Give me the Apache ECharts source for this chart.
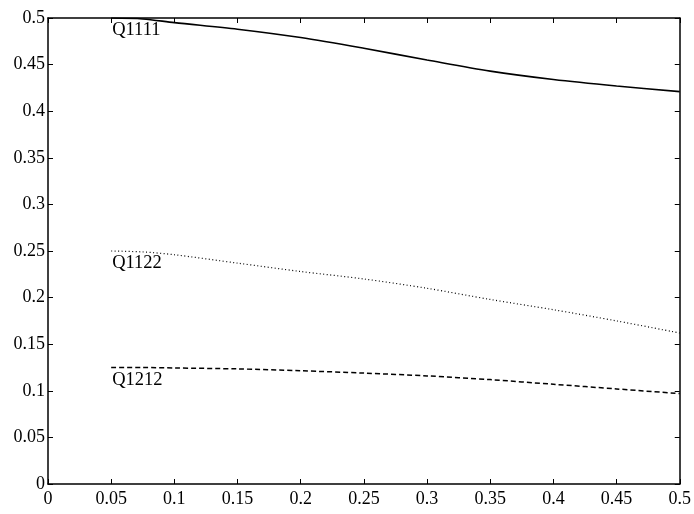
<!DOCTYPE html>
<html>
<head>
<meta charset="utf-8">
<script src="https://cdn.jsdelivr.net/npm/echarts@6/dist/echarts.min.js"></script>
<style>
  html, body { margin: 0; padding: 0; background: #fff; }
  #chart { width: 694px; height: 514px; }
</style>
</head>
<body>
<div id="chart"></div>
<script>
// Stiffness components as a function of the parameter on the x axis
const xs = [0.05, 0.075, 0.1, 0.15, 0.2, 0.25, 0.3, 0.35, 0.4, 0.45, 0.5];
const q1111 = [0.5, 0.499, 0.495, 0.488, 0.479, 0.4675, 0.455, 0.443, 0.434, 0.427, 0.421];
const q1122 = [0.25, 0.249, 0.246, 0.237, 0.228, 0.22, 0.21, 0.198, 0.187, 0.175, 0.162];
const q1212 = [0.125, 0.125, 0.1245, 0.1235, 0.1215, 0.119, 0.116, 0.112, 0.107, 0.102, 0.097];
const seriesNames = ['Q1111', 'Q1122', 'Q1212'];

const FONT = '"Liberation Serif", "DejaVu Serif", serif';

// The first point of each curve carries the curve's name just below it
function toData(ys, name) {
  return xs.map((x, i) => {
    if (i === 0) {
      return {
        value: [x, ys[i]],
        label: {
          show: true,
          formatter: name,
          position: 'bottom',
          align: 'left',
          distance: 3,
          offset: [1, 0],
          fontFamily: FONT,
          fontSize: 18.5,
          color: '#000'
        }
      };
    }
    return [x, ys[i]];
  });
}

const chart = echarts.init(document.getElementById('chart'), null, { renderer: 'canvas' });

const axisLine = { show: true, onZero: false, lineStyle: { color: '#000', width: 1.5 } };
const axisTick = { show: true, inside: true, length: 5, lineStyle: { color: '#000', width: 1 } };

function lineSeries(name, ys, lineStyle) {
  return {
    name, type: 'line', data: toData(ys, name),
    smooth: 0.3, showSymbol: true, symbol: 'circle', symbolSize: 0,
    emphasis: { disabled: true },
    lineStyle
  };
}

chart.setOption({
  animation: false,
  backgroundColor: '#fff',
  grid: { left: 48, right: 11, top: 18, bottom: 30, containLabel: false },
  xAxis: [
    {
      type: 'value', min: 0, max: 0.5, interval: 0.05, position: 'bottom',
      axisLine, axisTick, splitLine: { show: false },
      axisLabel: { color: '#000', fontFamily: FONT, fontSize: 18, margin: 6 }
    },
    {
      type: 'value', min: 0, max: 0.5, interval: 0.05, position: 'top',
      axisLine, axisTick, splitLine: { show: false }, axisLabel: { show: false }
    }
  ],
  yAxis: [
    {
      type: 'value', min: 0, max: 0.5, interval: 0.05, position: 'left',
      axisLine, axisTick, splitLine: { show: false },
      axisLabel: { color: '#000', fontFamily: FONT, fontSize: 18, margin: 3 }
    },
    {
      type: 'value', min: 0, max: 0.5, interval: 0.05, position: 'right',
      axisLine, axisTick, splitLine: { show: false }, axisLabel: { show: false }
    }
  ],
  series: [
    lineSeries(seriesNames[0], q1111, { color: '#000', width: 1.6, type: 'solid' }),
    lineSeries(seriesNames[1], q1122, { color: '#000', width: 1.2, type: [1, 2.5] }),
    lineSeries(seriesNames[2], q1212, { color: '#000', width: 1.5, type: [5, 3] })
  ]
});
</script>
</body>
</html>
